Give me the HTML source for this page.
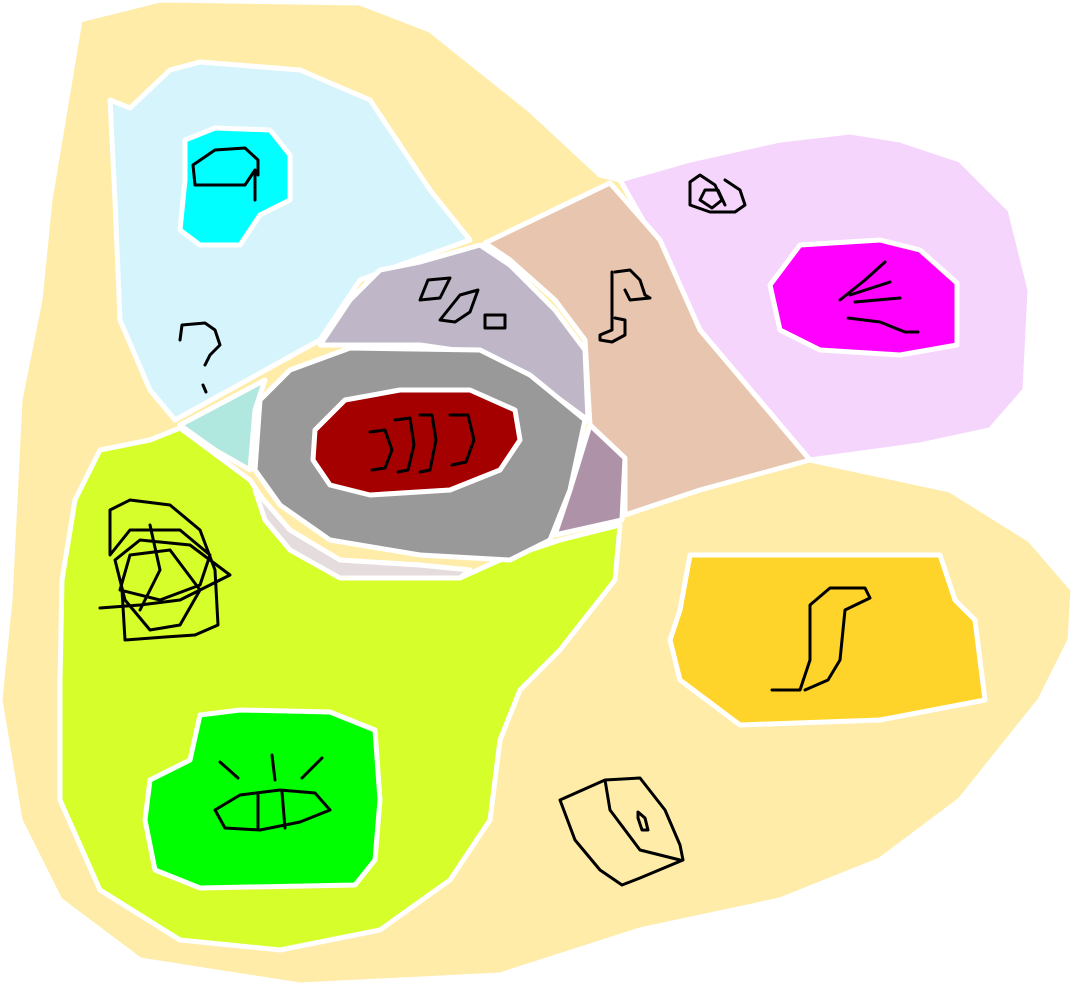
<!DOCTYPE html>
<html><head><meta charset="utf-8"><style>html,body{margin:0;padding:0;background:#fff}svg{display:block}</style></head>
<body>
<svg width="1073" height="988" viewBox="0 0 1073 988">
<g stroke="#fff" stroke-width="5" stroke-linejoin="round">
<polygon fill="#feeca8" points="80,20 160,0 360,3 430,30 530,110 600,175 620,180 810,460 950,490 1030,540 1073,590 1070,640 1040,700 960,800 880,860 780,900 640,930 500,975 300,985 140,960 60,900 20,820 0,700 10,600 20,400 40,300 50,200"/>
<polygon fill="#d5f4fc" points="110,100 130,108 170,70 200,62 300,70 370,100 390,130 430,190 470,240 400,265 360,280 320,340 175,420 150,390 120,320 115,200"/>
<polygon fill="#00ffff" points="185,140 215,128 270,130 290,155 290,200 260,215 240,245 200,245 180,230 185,180"/>
<polygon fill="#f6d5fc" points="620,180 690,160 780,140 850,132 900,140 960,160 1010,210 1030,290 1025,390 990,430 920,445 810,460 700,330 660,250"/>
<polygon fill="#ff00ff" points="770,285 800,245 880,240 920,250 957,283 957,345 900,355 820,350 780,330"/>
<polygon fill="#e8c5ae" points="485,243 610,183 660,240 700,330 810,460 700,490 625,515 625,460 590,425 585,340 555,300 510,260"/>
<polygon fill="#bfb7c8" points="320,345 350,300 380,270 420,262 480,245 510,265 555,310 585,350 588,420 540,385 490,355 420,345 350,345"/>
<polygon fill="#ae93a8" points="590,425 625,458 622,520 555,535 570,490"/>
<polygon fill="#b0e8e0" points="180,425 265,380 255,410 250,470 215,450"/>
<polygon fill="#d5fe2a" points="100,450 150,440 180,428 250,480 280,525 330,570 460,578 500,560 560,540 620,525 615,580 560,650 520,690 500,740 490,820 450,880 380,930 280,950 180,940 100,890 60,800 60,680 62,580 75,500"/>
<polygon fill="#e5dcde" points="255,490 290,530 340,560 420,565 470,570 460,578 340,578 290,550 265,520"/>
<polygon fill="#999999" points="260,400 290,370 350,348 480,350 530,375 585,420 570,490 550,540 510,560 420,555 330,540 280,505 255,470"/>
<polygon fill="#a50000" points="315,430 345,400 400,390 470,390 515,410 520,440 500,470 450,490 370,495 330,485 313,460"/>
<polygon fill="#00ff00" points="150,780 190,760 200,715 240,710 330,712 375,730 380,800 375,860 355,885 200,888 155,870 145,820"/>
<polygon fill="#ffd42a" points="690,555 940,555 955,600 975,620 985,700 880,720 740,725 680,680 670,640 680,610"/>
</g>
<g fill="none" stroke="#000" stroke-width="3" stroke-linecap="round" stroke-linejoin="round">
<path d="M255,200 L255,170 L245,185 L215,185 L195,185 L193,165 L215,150 L245,148 L258,160 L258,175"/>
<path d="M180,340 L182,325 L205,323 L215,330 L220,345 L210,355 L205,365"/>
<path d="M203,385 L206,392"/>
<path d="M420,300 L428,280 L450,278 L440,298 Z"/>
<path d="M440,320 L460,295 L478,290 L470,312 L455,322 Z"/>
<path d="M485,315 L505,315 L505,328 L485,328 Z"/>
<path d="M370,432 L385,430 L392,450 L385,468 L372,470 M395,420 L410,418 L414,445 L408,470 L398,472 M420,415 L432,415 L436,440 L430,470 L420,472 M450,415 L468,415 L474,440 L466,462 L452,465"/>
<path d="M725,205 L718,190 L705,190 L700,200 L712,208 L722,200 L715,185 L700,175 L690,182 L690,205 L710,212 L735,212 L745,205 L740,190 L725,180"/>
<path d="M612,272 L612,330 L600,335 L600,340 L612,342 L625,335 L625,320 L615,318 M615,272 L630,270 L640,280 L645,295 L650,298 L630,300 L625,290"/>
<path d="M840,300 L865,280 L885,262 M850,295 L890,282 M855,302 L900,298 M848,318 L880,322 L905,332 L918,332"/>
<path d="M100,608 L140,605 L180,600 L230,575 L190,545 L140,540 L115,560 L125,600 L150,630 L180,625 L200,590 L170,550 L130,555 L120,590 L160,600 L200,585 L210,555 L180,530 L130,530 L110,555 L110,510 L130,500 L170,505 L200,530 L215,570 L218,625 L195,635 L165,637 L125,640 L122,590 M150,525 L160,570 L140,610"/>
<path d="M215,810 L240,795 L280,790 L315,793 L330,810 L300,822 L260,830 L225,828 Z M258,795 L258,828 M282,792 L285,828 M220,762 L238,778 M272,755 L275,780 M322,758 L302,778"/>
<path d="M772,690 L800,690 L810,660 L810,605 L830,588 L865,588 L870,598 L845,610 L840,660 L828,680 L805,690"/>
<path d="M560,800 L605,780 L640,778 L665,810 L680,845 L683,860 L640,878 L622,885 L600,870 L575,840 Z M605,780 L610,810 L640,850 L680,860 M638,812 L645,818 L648,830 L642,830 L638,818 Z"/>
</g>
</svg>
</body></html>
